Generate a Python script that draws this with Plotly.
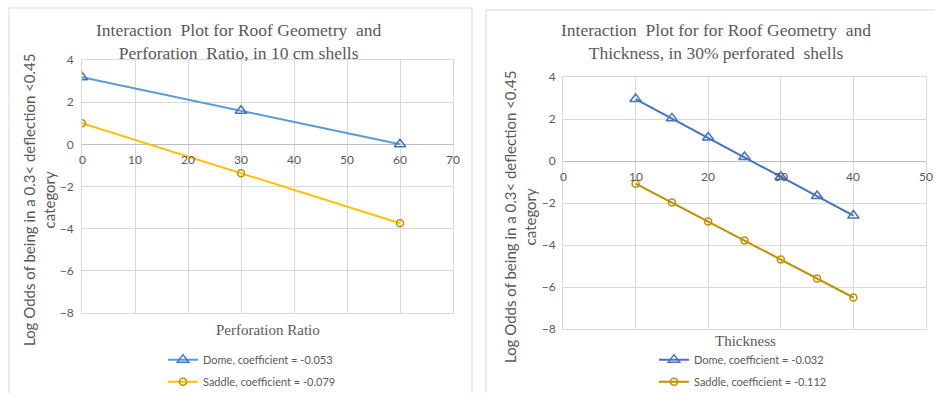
import plotly.graph_objects as go

# Left chart: roof geometry x perforation ratio (10 cm shells)
perf_ratio = [0, 30, 60]
dome_perf = [3.18, 1.59, 0.0]
saddle_perf = [1.0, -1.37, -3.74]

# Right chart: roof geometry x thickness (30% perforated shells)
thickness = [10, 15, 20, 25, 30, 35, 40]
dome_thick = [2.95, 2.03, 1.12, 0.19, -0.75, -1.67, -2.6]
saddle_thick = [-1.08, -1.98, -2.88, -3.78, -4.69, -5.59, -6.5]

left_xticks = [0, 10, 20, 30, 40, 50, 60, 70]
right_xticks = [0, 10, 20, 30, 40, 50]
yticks = [4, 2, 0, -2, -4, -6, -8]

W, H = 935, 393
GRID = "#D9D9D9"
TXT = "#595959"
SANS = "Lato, 'Open Sans', sans-serif"
SERIF = "'Liberation Serif', 'Times New Roman', serif"


def px_x(p):
    return p / W


def px_y(p):
    return 1 - p / H


fig = go.Figure()

fig.add_trace(go.Scatter(
    x=perf_ratio, y=dome_perf, mode="lines+markers",
    name="Dome, coefficient = -0.053",
    line=dict(color="#5B9BD5", width=2),
    marker=dict(symbol="triangle-up-open", size=10, color="#4472C4",
                line=dict(width=1.5, color="#4472C4")),
    xaxis="x", yaxis="y", legend="legend", legendgroup="a"))
fig.add_trace(go.Scatter(
    x=perf_ratio, y=saddle_perf, mode="lines+markers",
    name="Saddle, coefficient = -0.079",
    line=dict(color="#FFC000", width=2),
    marker=dict(symbol="circle-open", size=7, color="#BF9000",
                line=dict(width=1.5, color="#BF9000")),
    xaxis="x", yaxis="y", legend="legend", legendgroup="b"))
fig.add_trace(go.Scatter(
    x=thickness, y=dome_thick, mode="lines+markers",
    name="Dome, coefficient = -0.032",
    line=dict(color="#4472C4", width=2),
    marker=dict(symbol="triangle-up-open", size=10, color="#4472C4",
                line=dict(width=1.5, color="#4472C4")),
    xaxis="x2", yaxis="y2", legend="legend2", legendgroup="c"))
fig.add_trace(go.Scatter(
    x=thickness, y=saddle_thick, mode="lines+markers",
    name="Saddle, coefficient = -0.112",
    line=dict(color="#BF9000", width=2),
    marker=dict(symbol="circle-open", size=7, color="#BF9000",
                line=dict(width=1.5, color="#BF9000")),
    xaxis="x2", yaxis="y2", legend="legend2", legendgroup="d"))

# plot-area pixel boxes
L = dict(x0=82, x1=453, y0=60, y1=313)
R = dict(x0=563, x1=926, y0=77, y1=329)

ax_common = dict(showgrid=True, gridcolor=GRID, gridwidth=1, showline=True,
                 linecolor=GRID, mirror=True, ticks="", fixedrange=True)

legend_common = dict(xanchor="left", yanchor="bottom", y=-0.008,
                     orientation="v", bgcolor="rgba(0,0,0,0)", itemwidth=30,
                     tracegroupgap=3, traceorder="grouped",
                     font=dict(family=SANS, size=11, color=TXT))

fig.update_layout(
    width=W, height=H,
    margin=dict(l=0, r=0, t=0, b=0, autoexpand=False),
    paper_bgcolor="white", plot_bgcolor="white",
    font=dict(family=SANS, color=TXT, size=12),
    xaxis=dict(domain=[px_x(L["x0"]), px_x(L["x1"])], range=[0, 70],
               tickvals=left_xticks, showticklabels=False, zeroline=False,
               anchor="y", **ax_common),
    yaxis=dict(domain=[px_y(L["y1"]), px_y(L["y0"])], range=[-8, 4],
               tickvals=yticks, zeroline=True, zerolinecolor="#BFBFBF",
               zerolinewidth=1, anchor="x", ticklabelstandoff=5,
               tickfont=dict(size=12, color=TXT), **ax_common),
    xaxis2=dict(domain=[px_x(R["x0"]), px_x(R["x1"])], range=[0, 50],
                tickvals=right_xticks, showticklabels=False, zeroline=False,
                anchor="y2", **ax_common),
    yaxis2=dict(domain=[px_y(R["y1"]), px_y(R["y0"])], range=[-8, 4],
                tickvals=yticks, zeroline=True, zerolinecolor="#BFBFBF",
                zerolinewidth=1, anchor="x2", ticklabelstandoff=4,
                tickfont=dict(size=12, color=TXT), **ax_common),
    legend=dict(x=px_x(163), **legend_common),
    legend2=dict(x=px_x(654), **legend_common),
)

annotations = []
# x tick labels sit along the y = 0 line
for v in left_xticks:
    annotations.append(dict(x=v, y=0, xref="x", yref="y", text=str(v),
                            showarrow=False, yshift=-15,
                            font=dict(size=12, color=TXT)))
for v in right_xticks:
    annotations.append(dict(x=v, y=0, xref="x2", yref="y2", text=str(v),
                            showarrow=False, yshift=-15,
                            font=dict(size=12, color=TXT)))


def paper_text(x, y, text, font, angle=0):
    return dict(x=px_x(x), y=px_y(y), xref="paper", yref="paper",
                xanchor="center", yanchor="middle", text=text,
                textangle=angle, showarrow=False, align="center", font=font)


title_font = dict(family=SERIF, size=17.5, color=TXT)
axis_font = dict(family=SERIF, size=15, color=TXT)
ytitle_font = dict(family=SANS, size=15, color=TXT)

# chart titles
annotations.append(paper_text(
    239, 42,
    "Interaction  Plot for Roof Geometry  and<br>Perforation  Ratio, in 10 cm shells",
    title_font))
annotations.append(paper_text(
    716, 42,
    "Interaction  Plot for for Roof Geometry  and<br>Thickness, in 30% perforated  shells",
    title_font))

# axis titles
annotations.append(paper_text(267.5, 330, "Perforation Ratio", axis_font))
annotations.append(paper_text(745, 341, "Thickness", axis_font))
ytitle = "Log Odds of being in a 0.3< deflection <0.45<br>category"
annotations.append(paper_text(39, 200, ytitle, ytitle_font, -90))
annotations.append(paper_text(520, 217, ytitle, ytitle_font, -90))
fig.update_layout(annotations=annotations)

# chart frames
fig.add_shape(type="rect", xref="paper", yref="paper",
              x0=px_x(9), x1=px_x(472), y0=px_y(8), y1=px_y(400),
              line=dict(color="#D9D9D9", width=1), layer="below")
fig.add_shape(type="rect", xref="paper", yref="paper",
              x0=px_x(486), x1=px_x(940), y0=px_y(10), y1=px_y(400),
              line=dict(color="#D9D9D9", width=1), layer="below")

fig.write_html("out.html")
